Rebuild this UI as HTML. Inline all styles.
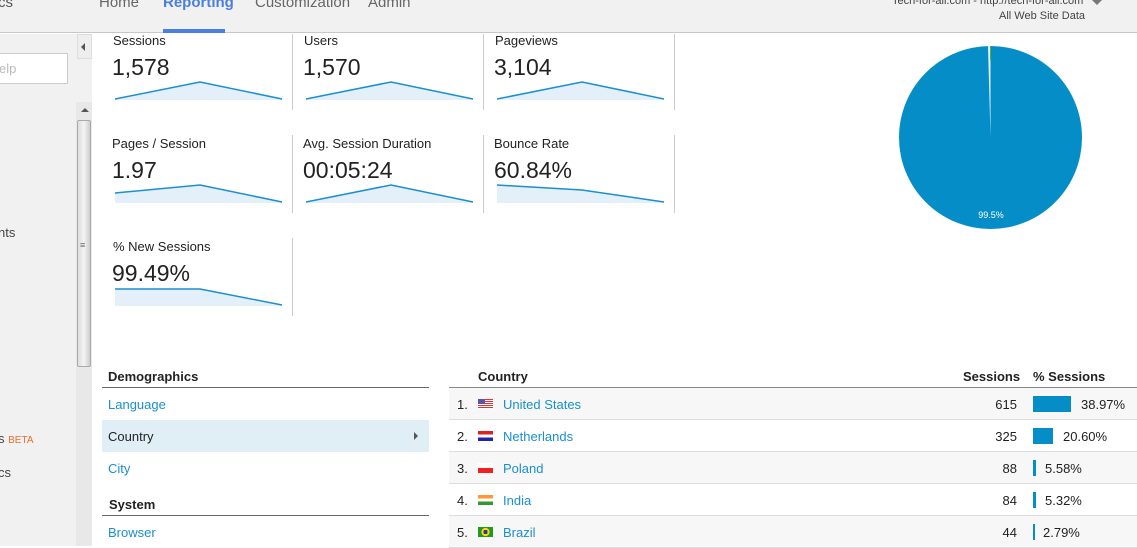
<!DOCTYPE html>
<html><head><meta charset="utf-8"><style>
*{margin:0;padding:0;box-sizing:border-box}
body{width:1137px;height:546px;overflow:hidden;background:#fff;font-family:"Liberation Sans",Arial,sans-serif;position:relative;color:#222}
.a{position:absolute;white-space:nowrap}
.lbl{font-size:13px;color:#222}
.val{font-size:23px;color:#222}
.sep{position:absolute;width:1px;background:#ccc}
.lnk{color:#1a8fd1;font-size:13px}
.row{position:absolute;left:449px;width:688px;height:32px;border-bottom:1px solid #ddd;background:#f7f7f7;font-size:13px}
.row span{position:absolute;top:9px}
.bar{position:absolute;top:8px;height:16px;background:#058dc7}
</style></head><body>
<!-- header -->
<div class="a" style="left:0;top:0;width:1137px;height:33px;background:#f1f1f1;border-bottom:1px solid #c8c8c8"></div>
<div class="a" style="left:-2px;top:-6px;font-size:15px;color:#555">cs</div>
<div class="a" style="left:99px;top:-6px;font-size:15px;color:#666">Home</div>
<div class="a" style="left:163px;top:-6px;font-size:15px;color:#4a7fe0;font-weight:bold">Reporting</div>
<div class="a" style="left:163px;top:29px;width:62px;height:4px;background:#4a7fe0"></div>
<div class="a" style="left:255px;top:-6px;font-size:15px;color:#666">Customization</div>
<div class="a" style="left:368px;top:-6px;font-size:15px;color:#666">Admin</div>
<div class="a" style="left:892px;top:-5px;font-size:11px;color:#444">Tech-for-all.com - http://tech-for-all.com</div>
<div class="a" style="left:999px;top:10px;font-size:11px;color:#444">All Web Site Data</div>
<div class="a" style="left:1092px;top:0px;width:0;height:0;border-left:5px solid transparent;border-right:5px solid transparent;border-top:5px solid #777"></div>
<!-- sidebar -->
<div class="a" style="left:0;top:34px;width:92px;height:512px;background:#f1f1f1"></div>
<div class="a" style="left:-2px;top:53px;width:70px;height:31px;background:#fff;border:1px solid #ccc;font-size:13px;color:#bbb;padding:7px 0 0 0">elp</div>
<div class="a" style="left:77px;top:34px;width:15px;height:25px;border:1px solid #ddd;background:#eee"></div>
<div class="a" style="left:81px;top:43px;width:0;height:0;border-top:4px solid transparent;border-bottom:4px solid transparent;border-right:4px solid #555"></div>
<div class="a" style="left:76px;top:102px;width:16px;height:444px;background:#e8e8e8"></div>
<div class="a" style="left:81px;top:108px;width:0;height:0;border-left:4px solid transparent;border-right:4px solid transparent;border-bottom:4px solid #555"></div>
<div class="a" style="left:77px;top:120px;width:14px;height:247px;background:linear-gradient(90deg,#ddd,#f4f4f4,#ccc);border:1px solid #aaa;border-radius:2px"></div>
<div class="a" style="left:80px;top:240px;font-size:9px;color:#666">≡</div>
<div class="a" style="left:-2px;top:225px;font-size:13px;color:#444">nts</div>
<div class="a" style="left:-2px;top:431px;font-size:13px;color:#444">s <span style="color:#e8702a;font-size:10px">BETA</span></div>
<div class="a" style="left:-2px;top:465px;font-size:13px;color:#444">cs</div>
<!-- metrics -->
<div class="sep" style="left:292px;top:34px;height:76px"></div>
<div class="sep" style="left:483px;top:34px;height:76px"></div>
<div class="sep" style="left:674px;top:34px;height:76px"></div>
<div class="sep" style="left:292px;top:135px;height:78px"></div>
<div class="sep" style="left:483px;top:135px;height:78px"></div>
<div class="sep" style="left:674px;top:135px;height:78px"></div>
<div class="sep" style="left:292px;top:238px;height:78px"></div>

<div class="a lbl" style="left:113px;top:33px">Sessions</div><div class="a val" style="left:112px;top:54px">1,578</div>
<div class="a lbl" style="left:304px;top:33px">Users</div><div class="a val" style="left:303px;top:54px">1,570</div>
<div class="a lbl" style="left:495px;top:33px">Pageviews</div><div class="a val" style="left:494px;top:54px">3,104</div>
<div class="a lbl" style="left:112px;top:136px">Pages / Session</div><div class="a val" style="left:112px;top:157px">1.97</div>
<div class="a lbl" style="left:303px;top:136px">Avg. Session Duration</div><div class="a val" style="left:303px;top:157px">00:05:24</div>
<div class="a lbl" style="left:494px;top:136px">Bounce Rate</div><div class="a val" style="left:494px;top:157px">60.84%</div>
<div class="a lbl" style="left:113px;top:239px">% New Sessions</div><div class="a val" style="left:112px;top:260px">99.49%</div>

<svg class="a" style="left:0;top:0" width="1137" height="546">
<g fill="#e3f0fa" stroke="none">
<polygon points="115,99 200,82 282,99 282,100 115,100"/>
<polygon points="306,99 391,82 473,99 473,100 306,100"/>
<polygon points="497,99 582,82 664,99 664,100 497,100"/>
<polygon points="115,193 200,185 282,202 282,203 115,203"/>
<polygon points="306,202 391,185 473,202 473,203 306,203"/>
<polygon points="497,185 582,190 664,202 664,203 497,203"/>
<polygon points="115,289 200,289 282,305 282,306 115,306"/>
</g>
<g fill="none" stroke="#1a8fd1" stroke-width="1.5">
<polyline points="115,99 200,82 282,99"/>
<polyline points="306,99 391,82 473,99"/>
<polyline points="497,99 582,82 664,99"/>
<polyline points="115,193 200,185 282,202"/>
<polyline points="306,202 391,185 473,202"/>
<polyline points="497,185 582,190 664,202"/>
<polyline points="115,289 200,289 282,305"/>
</g>
<circle cx="990.5" cy="137.5" r="91.5" fill="#058dc7"/>
<path d="M990.5,137.5 L990.5,46 L988,46 Z" fill="#e8f0f0"/>
<line x1="990.5" y1="46" x2="990.5" y2="60" stroke="#50b432" stroke-width="1"/>
<text x="991" y="218" font-size="9" fill="#fff" text-anchor="middle" font-family="Liberation Sans">99.5%</text>
</svg>

<!-- demographics -->
<div class="a" style="left:108px;top:369px;font-size:13px;font-weight:bold">Demographics</div>
<div class="a" style="left:102px;top:387px;width:327px;height:1px;background:#666"></div>
<div class="a lnk" style="left:108px;top:397px">Language</div>
<div class="a" style="left:102px;top:420px;width:327px;height:32px;background:#e0eef6"></div>
<div class="a" style="left:108px;top:429px;font-size:13px">Country</div>
<div class="a" style="left:414px;top:432px;width:0;height:0;border-top:4px solid transparent;border-bottom:4px solid transparent;border-left:4px solid #555"></div>
<div class="a lnk" style="left:108px;top:461px">City</div>
<div class="a" style="left:109px;top:497px;font-size:13px;font-weight:bold">System</div>
<div class="a" style="left:102px;top:515px;width:327px;height:1px;background:#666"></div>
<div class="a lnk" style="left:108px;top:525px">Browser</div>

<!-- table -->
<div class="a" style="left:478px;top:369px;font-size:13px;font-weight:bold">Country</div>
<div class="a" style="left:963px;top:369px;font-size:13px;font-weight:bold">Sessions</div>
<div class="a" style="left:1033px;top:369px;font-size:13px;font-weight:bold">% Sessions</div>
<div class="a" style="left:449px;top:387px;width:688px;height:1px;background:#888"></div>

<div class="row" style="top:388px"><span style="left:8px">1.</span><span style="left:29px;top:11px;width:15px;height:10px;background:repeating-linear-gradient(#d33 0 1px,#fff 1px 2px)"></span><span style="left:29px;top:11px;width:7px;height:5px;background:#55a"></span><span class="lnk" style="left:54px">United States</span><span style="right:120px">615</span><div class="bar" style="left:584px;width:38px"></div><span style="left:632px">38.97%</span></div>
<div class="row" style="top:420px;background:#fff"><span style="left:8px">2.</span><span style="left:29px;top:11px;width:15px;height:10px;background:linear-gradient(#d22 0 33%,#fff 33% 66%,#22a 66%)"></span><span class="lnk" style="left:54px">Netherlands</span><span style="right:120px">325</span><div class="bar" style="left:584px;width:20px"></div><span style="left:614px">20.60%</span></div>
<div class="row" style="top:452px"><span style="left:8px">3.</span><span style="left:29px;top:11px;width:15px;height:10px;background:linear-gradient(#fff 0 50%,#e22 50%)"></span><span class="lnk" style="left:54px">Poland</span><span style="right:120px">88</span><div class="bar" style="left:584px;width:3px"></div><span style="left:596px">5.58%</span></div>
<div class="row" style="top:484px;background:#fff"><span style="left:8px">4.</span><span style="left:29px;top:11px;width:15px;height:10px;background:linear-gradient(#f93 0 33%,#fff 33% 66%,#393 66%)"></span><span class="lnk" style="left:54px">India</span><span style="right:120px">84</span><div class="bar" style="left:584px;width:3px"></div><span style="left:596px">5.32%</span></div>
<div class="row" style="top:516px"><span style="left:8px">5.</span><span style="left:29px;top:11px;width:15px;height:10px;background:radial-gradient(circle,#33a 0 25%,#fd0 25% 45%,#292 45%)"></span><span class="lnk" style="left:54px">Brazil</span><span style="right:120px">44</span><div class="bar" style="left:584px;width:2px"></div><span style="left:594px">2.79%</span></div>
</body></html>
